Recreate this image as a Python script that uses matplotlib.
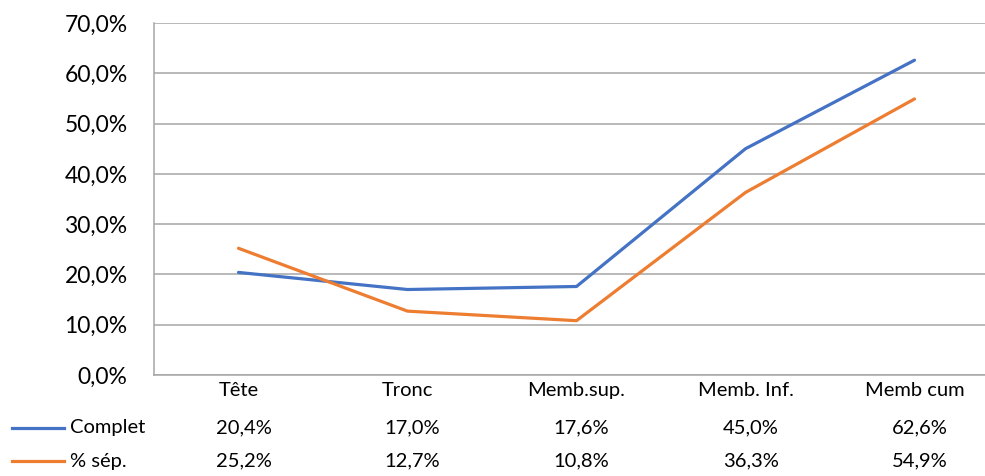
import matplotlib.pyplot as plt
from matplotlib.lines import Line2D
from matplotlib.ticker import FuncFormatter
from matplotlib.transforms import blended_transform_factory

plt.rcParams['font.family'] = ['Lato', 'DejaVu Sans']

categories = ['Tête', 'Tronc', 'Memb.sup.', 'Memb. Inf.', 'Memb cum']
complet = [20.4, 17.0, 17.6, 45.0, 62.6]
sep = [25.2, 12.7, 10.8, 36.3, 54.9]
series_names = ['Complet', '% sép.']
blue = '#4472C4'
orange = '#ED7D31'
grid_col = '#A6A6A6'

fig = plt.figure(figsize=(9.85, 4.76), dpi=100)
ax = fig.add_axes([154/985, 1-375/476, 845/985, 352/476])

x = list(range(len(categories)))
ax.plot(x, complet, color=blue, lw=2.3, solid_capstyle='round', zorder=3)
ax.plot(x, sep, color=orange, lw=2.3, solid_capstyle='round', zorder=3)

ax.set_xlim(-0.5, 4.5)
ax.set_ylim(0, 70)
ax.set_yticks(range(0, 71, 10))
ax.yaxis.set_major_formatter(FuncFormatter(lambda v, p: f'{v:.1f}%'.replace('.', ',')))
ax.tick_params(axis='y', length=0, pad=19, labelsize=16.5, labelcolor='#000000')
ax.set_xticks(x)
ax.set_xticklabels(categories)
ax.tick_params(axis='x', length=0, pad=5, labelsize=14.5)
ax.grid(axis='y', color=grid_col, lw=1.1)
ax.set_axisbelow(True)
for s in ['top', 'right']:
    ax.spines[s].set_visible(False)
for s in ['left', 'bottom']:
    ax.spines[s].set_color(grid_col)
    ax.spines[s].set_linewidth(1.1)

# data table under the axis
trans = blended_transform_factory(ax.transData, fig.transFigure)
rows = [(complet, blue, 428), (sep, orange, 461)]
for (vals, col, ypx), name in zip(rows, series_names):
    yf = 1 - ypx/476
    for i, v in enumerate(vals):
        ax.text(i + 0.03, yf, f'{v:.1f}%'.replace('.', ','), transform=trans,
                ha='center', va='center', fontsize=14.5)
    fig.add_artist(Line2D([12/985, 64/985], [yf, yf], color=col, lw=2.3, transform=fig.transFigure))
    fig.text(70/985, yf, name, ha='left', va='center', fontsize=14.5)

fig.savefig('out.png', dpi=100)
